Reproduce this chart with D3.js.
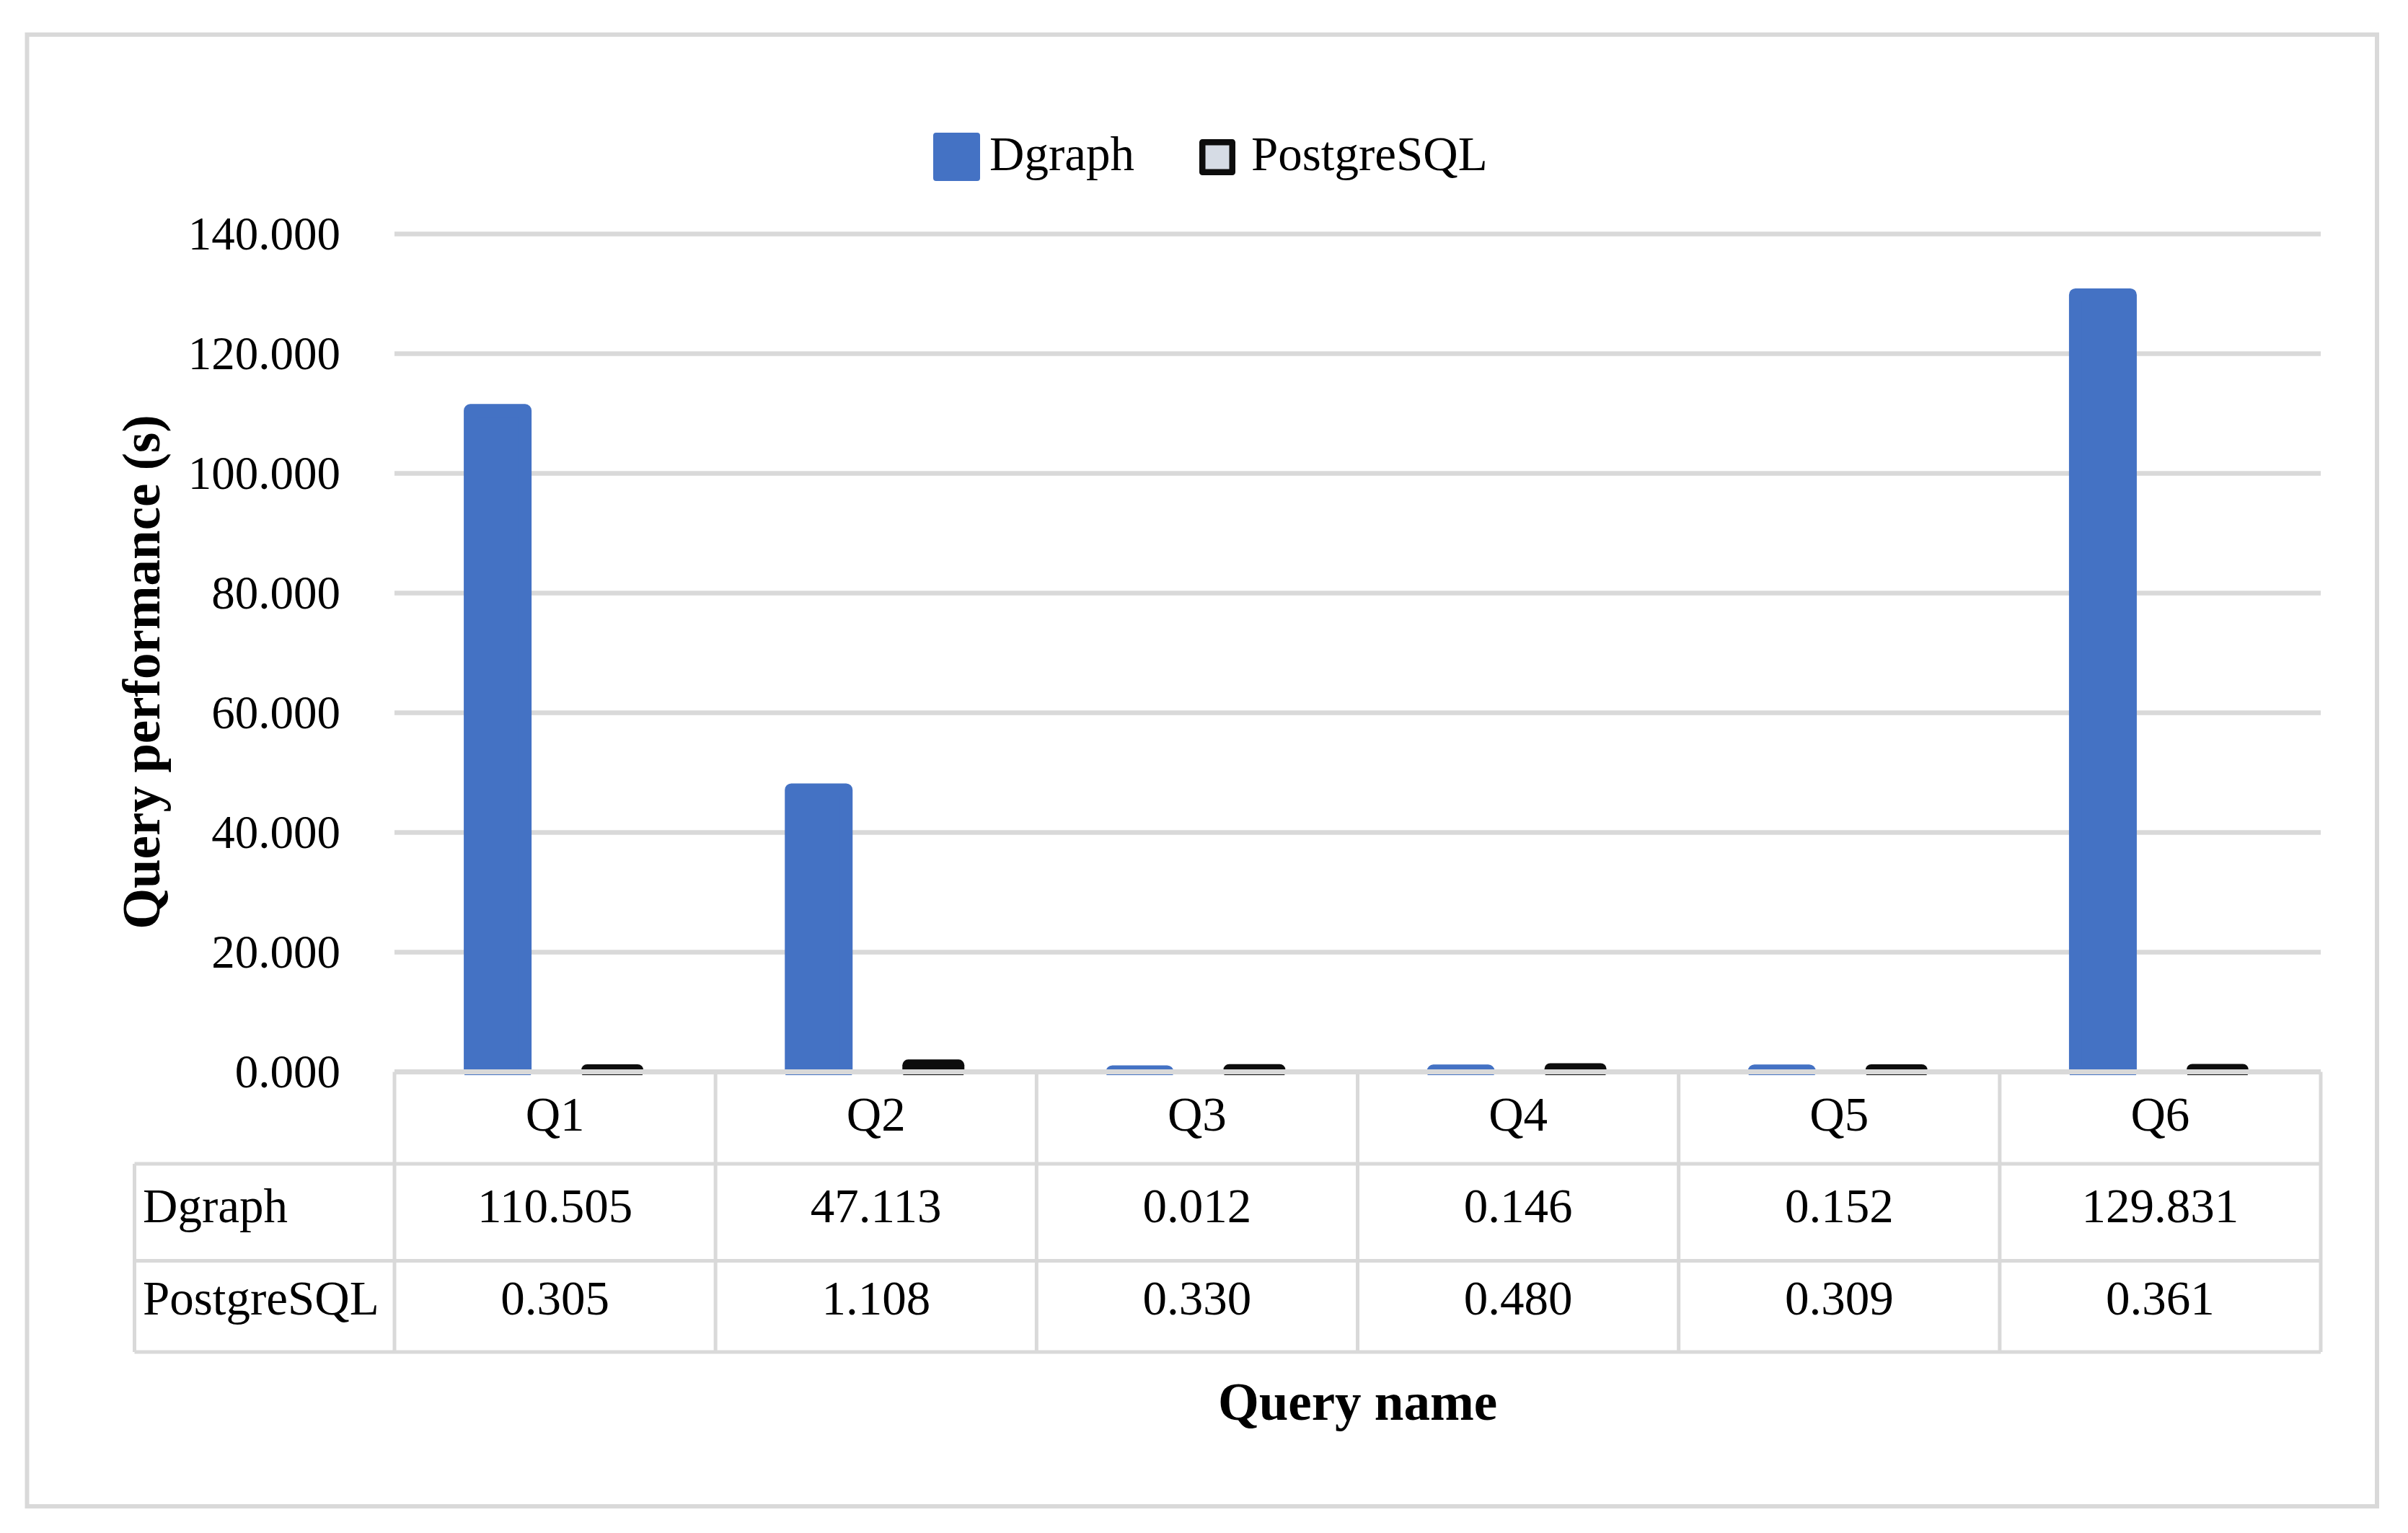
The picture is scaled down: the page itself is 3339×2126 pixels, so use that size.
<!DOCTYPE html>
<html>
<head>
<meta charset="utf-8">
<script src="https://cdn.jsdelivr.net/npm/d3@7"></script>
<style>
  html, body { margin: 0; padding: 0; background: #fff; }
  svg { display: block; }
  text { font-family: "Liberation Serif", "Times New Roman", serif; fill: #000; }
</style>
</head>
<body>
<script>
// ---------------- data ----------------
const categories = ["Q1", "Q2", "Q3", "Q4", "Q5", "Q6"];
const seriesNames = ["Dgraph", "PostgreSQL"];
const dgraphValues = [110.505, 47.113, 0.012, 0.146, 0.152, 129.831];
const postgresValues = [0.305, 1.108, 0.330, 0.480, 0.309, 0.361];
const yTicks = [0, 20, 40, 60, 80, 100, 120, 140];
const yTitle = "Query performance (s)";
const xTitle = "Query name";

// ---------------- layout ----------------
const W = 3339, H = 2126;
const plot = { left: 547, right: 3218, top: 324.5, bottom: 1486.5 };
const gridColor = "#D9D9D9";
const colors = { Dgraph: { fill: "#4472C4", stroke: "#4472C4", w: 76, sw: 18 },
                 PostgreSQL: { fill: "#D6DCE5", stroke: "#0D0D0D", w: 70, sw: 16 } };
const seriesValues = { Dgraph: dgraphValues, PostgreSQL: postgresValues };

const svg = d3.select("body").append("svg").attr("width", W).attr("height", H);

// outer border
svg.append("rect").attr("x", 37.5).attr("y", 48).attr("width", 3258.5).attr("height", 2041)
  .attr("fill", "#fff").attr("stroke", gridColor).attr("stroke-width", 6);

const x = d3.scaleBand().domain(categories).range([plot.left, plot.right]).padding(0);
const bw = x.bandwidth();
const xs = d3.scaleBand().domain(seriesNames).range([bw / 2 - 159, bw / 2 + 159]).padding(0);
const y = d3.scaleLinear().domain([0, 140]).range([plot.bottom, plot.top]);

// gridlines
svg.append("g").selectAll("line").data(yTicks.filter(t => t > 0)).join("line")
  .attr("x1", plot.left).attr("x2", plot.right)
  .attr("y1", d => y(d)).attr("y2", d => y(d))
  .attr("stroke", gridColor).attr("stroke-width", 6.5);

// y-axis tick labels via d3 axis
const yAxis = d3.axisLeft(y).tickValues(yTicks).tickFormat(d3.format(".3f")).tickSize(0).tickPadding(75);
const gy = svg.append("g").attr("transform", `translate(${plot.left},0)`).call(yAxis);
gy.select(".domain").remove();
gy.selectAll("text").attr("font-family", "Liberation Serif").attr("font-size", 65)
  .attr("fill", "#000").attr("dy", "0.32em");

// clip so bar outlines stop just under the axis line
svg.append("clipPath").attr("id", "barclip").append("rect")
  .attr("x", 0).attr("y", 0).attr("width", W).attr("height", plot.bottom + 4.5);

// bars
const barData = [];
categories.forEach((c, i) => seriesNames.forEach(s => barData.push({ c, s, v: seriesValues[s][i] })));
svg.append("g").attr("clip-path", "url(#barclip)").selectAll("rect").data(barData).join("rect")
  .attr("x", d => x(d.c) + xs(d.s) + xs.bandwidth() / 2 - colors[d.s].w / 2)
  .attr("width", d => colors[d.s].w)
  .attr("y", d => y(d.v))
  .attr("height", d => y(0) - y(d.v))
  .attr("fill", d => colors[d.s].fill)
  .attr("stroke", d => colors[d.s].stroke)
  .attr("stroke-width", d => colors[d.s].sw)
  .attr("stroke-linejoin", "round");

// data table
const rowY = [plot.bottom, 1614, 1748.5, 1875];
const tableLeft = 186.5;
const tg = svg.append("g").attr("stroke", gridColor);
tg.append("line").attr("x1", plot.left).attr("x2", plot.right).attr("y1", plot.bottom).attr("y2", plot.bottom).attr("stroke-width", 7);
[rowY[1], rowY[2], rowY[3]].forEach(yy => tg.append("line").attr("x1", tableLeft).attr("x2", plot.right)
  .attr("y1", yy).attr("y2", yy).attr("stroke-width", 5));
const colXs = categories.map(c => x(c)).concat([plot.right]);
tg.selectAll("line.col").data(colXs).join("line").attr("class", "col")
  .attr("x1", d => d).attr("x2", d => d).attr("y1", plot.bottom).attr("y2", rowY[3]).attr("stroke-width", 5);
tg.append("line").attr("x1", tableLeft).attr("x2", tableLeft).attr("y1", rowY[1]).attr("y2", rowY[3]).attr("stroke-width", 5);

const fs = 67;
// header
svg.append("g").selectAll("text").data(categories).join("text")
  .attr("x", d => x(d) + bw / 2).attr("y", 1568).attr("text-anchor", "middle")
  .attr("font-size", fs).text(d => d);
// rows
const rowBase = { Dgraph: 1695, PostgreSQL: 1823 };
seriesNames.forEach(s => {
  svg.append("text").attr("x", 198).attr("y", rowBase[s]).attr("font-size", fs).text(s);
  svg.append("g").selectAll("text").data(seriesValues[s]).join("text")
    .attr("x", (d, i) => x(categories[i]) + bw / 2).attr("y", rowBase[s])
    .attr("text-anchor", "middle").attr("font-size", fs).text(d => d3.format(".3f")(d));
});

// legend
const lg = svg.append("g");
lg.append("rect").attr("x", 1298).attr("y", 188).attr("width", 57).attr("height", 59)
  .attr("fill", colors.Dgraph.fill).attr("stroke", colors.Dgraph.stroke).attr("stroke-width", 8).attr("stroke-linejoin", "round");
lg.append("text").attr("x", 1372).attr("y", 236).attr("font-size", fs).text(seriesNames[0]);
lg.append("rect").attr("x", 1667.25).attr("y", 197.25).attr("width", 41.5).attr("height", 41.5)
  .attr("fill", colors.PostgreSQL.fill).attr("stroke", colors.PostgreSQL.stroke).attr("stroke-width", 8.5).attr("stroke-linejoin", "round");
lg.append("text").attr("x", 1735).attr("y", 236).attr("font-size", fs).text(seriesNames[1]);

// axis titles
svg.append("text").attr("x", (plot.left + plot.right) / 2).attr("y", 1969).attr("text-anchor", "middle")
  .attr("font-size", 73).attr("font-weight", "bold").text(xTitle);
svg.append("text").attr("transform", `translate(221,932) rotate(-90)`).attr("text-anchor", "middle")
  .attr("font-size", 73).attr("font-weight", "bold").text(yTitle);
</script>
</body>
</html>
